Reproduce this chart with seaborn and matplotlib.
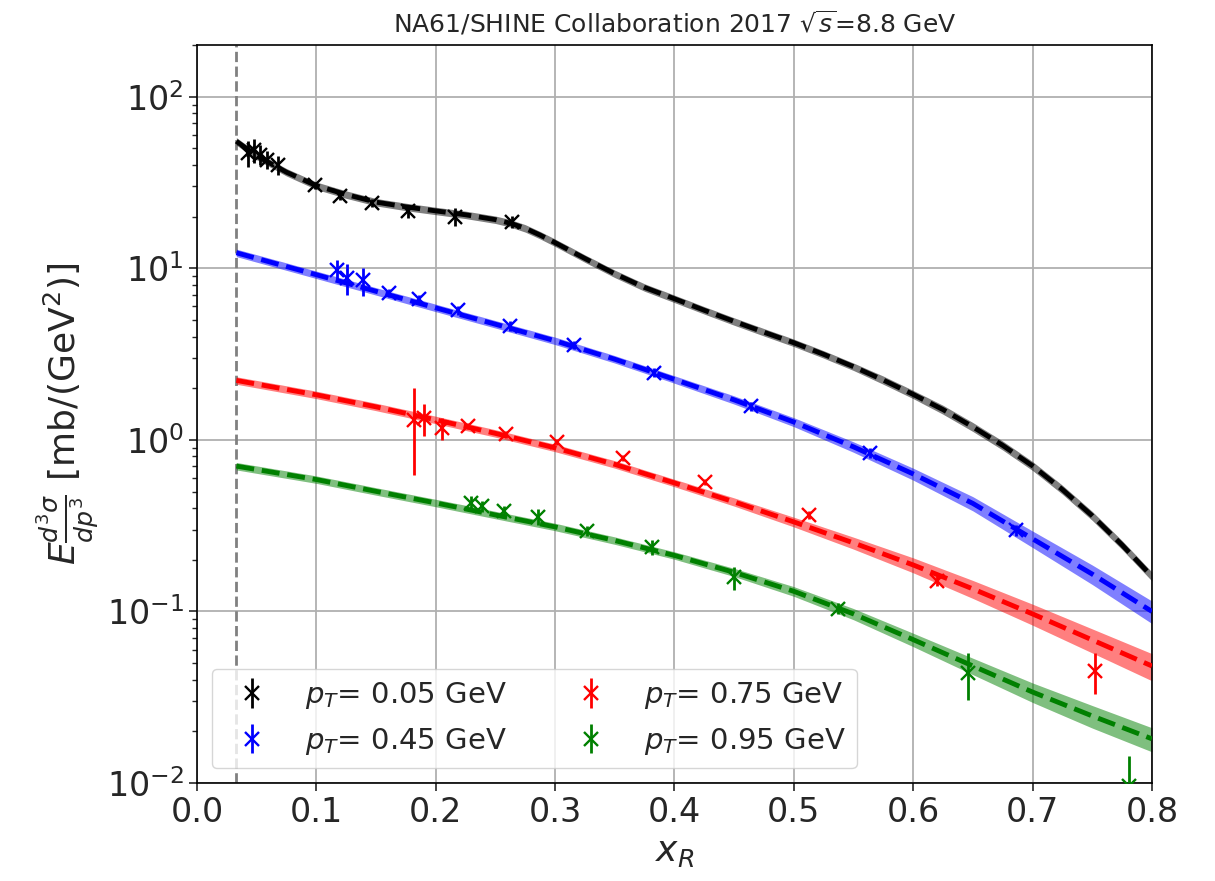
import numpy as np
import pandas as pd
import matplotlib
matplotlib.use("Agg")
import matplotlib.pyplot as plt
import seaborn as sns

# ---------------- data ----------------
labels = ["$p_T$= 0.05 GeV", "$p_T$= 0.45 GeV", "$p_T$= 0.75 GeV", "$p_T$= 0.95 GeV"]
colors = ["black", "blue", "red", "green"]

# measured points
x_005 = [0.043, 0.048, 0.053, 0.059, 0.068, 0.099, 0.120, 0.147, 0.177, 0.216, 0.264]
y_005 = [47.0, 49.0, 46.0, 43.0, 40.0, 30.5, 26.5, 24.0, 21.5, 20.0, 18.7]
e_005 = [8.0, 8.0, 6.0, 5.0, 5.0, 1.5, 1.5, 1.3, 2.0, 2.4, 1.5]

x_045 = [0.117, 0.126, 0.139, 0.161, 0.186, 0.219, 0.262, 0.316, 0.383, 0.464, 0.564, 0.686]
y_045 = [9.8, 8.8, 8.5, 7.2, 6.6, 5.7, 4.6, 3.58, 2.46, 1.57, 0.84, 0.297]
e_045 = [1.4, 1.8, 1.6, 0.4, 0.4, 0.35, 0.3, 0.2, 0.15, 0.1, 0.06, 0.02]

x_075 = [0.182, 0.190, 0.205, 0.227, 0.259, 0.302, 0.357, 0.426, 0.513, 0.620, 0.752]
y_075 = [1.31, 1.34, 1.17, 1.21, 1.08, 0.97, 0.785, 0.569, 0.367, 0.151, 0.0452]
e_075 = [0.69, 0.28, 0.17, 0.05, 0.05, 0.04, 0.03, 0.025, 0.02, 0.01, 0.012]

x_095 = [0.2295, 0.2385, 0.2570, 0.2860, 0.327, 0.381, 0.450, 0.537, 0.646, 0.781]
y_095 = [0.429, 0.41, 0.384, 0.357, 0.296, 0.237, 0.158, 0.104, 0.0438, 0.0096]
e_095 = [0.04, 0.03, 0.03, 0.04, 0.02, 0.025, 0.024, 0.008, 0.0135, 0.0048]

# model curves (knots) and relative band half-widths
cx_005 = [0.033, 0.05, 0.075, 0.10, 0.125, 0.15, 0.175, 0.20, 0.225, 0.25, 0.2625, 0.275,
          0.2875, 0.30, 0.325, 0.35, 0.375, 0.40, 0.425, 0.45, 0.475, 0.50, 0.525, 0.55,
          0.575, 0.60, 0.625, 0.65, 0.675, 0.70, 0.725, 0.75, 0.775, 0.80]
cy_005 = [55.0, 45.2, 36.3, 30.3, 26.9, 24.3, 22.8, 21.6, 20.5, 19.2, 18.3, 17.1,
          15.6, 14.1, 11.4, 9.29, 7.73, 6.64, 5.69, 4.90, 4.24, 3.68, 3.15, 2.67,
          2.23, 1.84, 1.50, 1.19, 0.928, 0.705, 0.513, 0.361, 0.244, 0.16]
cb_005 = [0.05, 0.05, 0.05, 0.05, 0.05, 0.05, 0.05, 0.05, 0.05, 0.05, 0.05, 0.05,
          0.05, 0.05, 0.05, 0.05, 0.05, 0.05, 0.05, 0.05, 0.05, 0.05, 0.05, 0.05,
          0.055, 0.055, 0.06, 0.06, 0.06, 0.06, 0.06, 0.06, 0.06, 0.06]

cx_all = [0.033, 0.10, 0.15, 0.20, 0.25, 0.30, 0.35, 0.40, 0.45, 0.50, 0.55, 0.60, 0.65, 0.70, 0.75, 0.80]
cy_045 = [12.31, 9.17, 7.34, 5.88, 4.72, 3.78, 2.95, 2.25, 1.71, 1.27, 0.91, 0.633, 0.426, 0.265, 0.165, 0.100]
cb_045 = [0.05, 0.05, 0.05, 0.05, 0.05, 0.05, 0.05, 0.05, 0.055, 0.06, 0.07, 0.08, 0.095, 0.11, 0.13, 0.15]
cy_075 = [2.22, 1.83, 1.557, 1.308, 1.091, 0.898, 0.720, 0.561, 0.435, 0.3325, 0.2508, 0.1866, 0.1353, 0.0967, 0.0682, 0.0481]
cb_075 = [0.05, 0.05, 0.05, 0.05, 0.05, 0.05, 0.05, 0.05, 0.055, 0.065, 0.08, 0.10, 0.12, 0.14, 0.16, 0.18]
cy_095 = [0.703, 0.587, 0.501, 0.429, 0.365, 0.311, 0.259, 0.212, 0.169, 0.131, 0.0967, 0.0685, 0.0481, 0.0339, 0.0246, 0.0181]
cb_095 = [0.05, 0.05, 0.05, 0.05, 0.05, 0.05, 0.05, 0.05, 0.055, 0.065, 0.075, 0.09, 0.11, 0.13, 0.15, 0.16]

x_cut = 0.033
x_ticks = [0.0, 0.1, 0.2, 0.3, 0.4, 0.5, 0.6, 0.7, 0.8]

points = [(x_005, y_005, e_005), (x_045, y_045, e_045), (x_075, y_075, e_075), (x_095, y_095, e_095)]
curves = [(cx_005, cy_005, cb_005), (cx_all, cy_045, cb_045), (cx_all, cy_075, cb_075), (cx_all, cy_095, cb_095)]

# ---------------- plot ----------------
sns.set_style("ticks")
plt.rcParams["font.family"] = ["DejaVu Sans"]
plt.rcParams["mathtext.fontset"] = "dejavusans"

fig = plt.figure(figsize=(12.15, 8.81), dpi=100)
ax = fig.add_axes([0.1621, 0.1112, 0.9481 - 0.1621, 0.9489 - 0.1112])
ax.set_yscale("log")

for (cx, cy, cb), c in zip(curves, colors):
    cx = np.array(cx); cy = np.array(cy); cb = np.array(cb)
    ax.fill_between(cx, cy * (1 - cb), cy * (1 + cb), color=c, alpha=0.5, lw=0, zorder=2)
    df = pd.DataFrame({"x": cx, "y": cy})
    sns.lineplot(data=df, x="x", y="y", ax=ax, color=c, lw=3.5, ls="--",
                 estimator=None, sort=False, zorder=3)

for (px, py, pe), c, lab in zip(points, colors, labels):
    ax.errorbar(px, py, yerr=pe, fmt="x", color=c, ms=10, mew=1.7, elinewidth=2,
                capsize=0, label=lab, zorder=4)

ax.axvline(x_cut, color="gray", ls="--", lw=2, zorder=1)

ax.set_xlim(0.0, 0.8)
ax.set_ylim(1e-2, 2e2)
ax.set_xticks(x_ticks)
ax.set_xticklabels([f"{t:.1f}" for t in x_ticks])
ax.grid(True, which="major", color="#b0b0b0", lw=1.3)
ax.tick_params(axis="both", which="major", labelsize=24, length=6, width=1.2)
ax.tick_params(axis="y", which="minor", length=3.5, width=1)
for s in ax.spines.values():
    s.set_color("black")
    s.set_linewidth(1.2)

ax.set_xlabel("$x_R$", fontsize=26, labelpad=4)
ax.set_ylabel(r"$E\frac{d^3\sigma}{dp^3}$ [mb/(GeV$^2$)]", fontsize=26, labelpad=4)
ax.set_title(r"NA61/SHINE Collaboration 2017 $\sqrt{s}$=8.8 GeV", fontsize=18, pad=9)

leg = ax.legend(loc="lower left", ncol=2, fontsize=21, handletextpad=0.8,
                columnspacing=1.9, borderaxespad=0.5, bbox_to_anchor=(0.0, 0.0))

fig.savefig("out.png", dpi=100)
